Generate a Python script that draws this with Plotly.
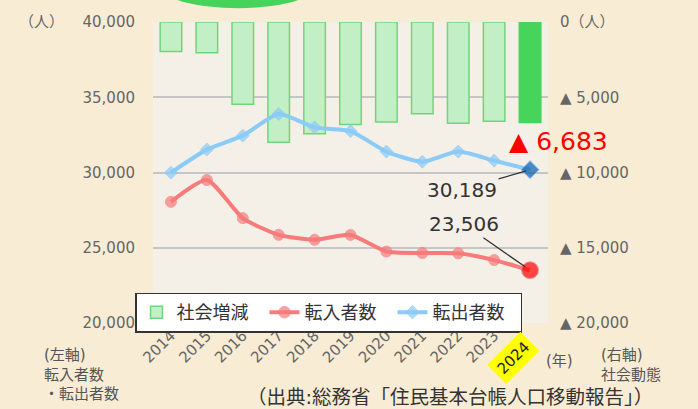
import plotly.graph_objects as go

years = ["2014", "2015", "2016", "2017", "2018", "2019", "2020", "2021", "2022", "2023", "2024"]
social_change = [-1960, -2050, -5460, -7990, -7420, -6810, -6650, -6100, -6720, -6600, -6683]
moved_in = [28050, 29500, 26970, 25860, 25530, 25850, 24750, 24650, 24630, 24180, 23506]
moved_out = [29990, 31520, 32450, 33890, 33000, 32750, 31390, 30720, 31390, 30790, 30189]

left_ticks = [20000, 25000, 30000, 35000, 40000]
right_tickvals = [0, -5000, -10000, -15000, -20000]
right_ticktext = ["0（人）", "▲ 5,000", "▲ 10,000", "▲ 15,000", "▲ 20,000"]

FONT = "DejaVu Sans, Noto Sans CJK JP, sans-serif"
GREY = "#666666"

n = len(years)
last = n - 1
bar_fill = ["#c3efc6"] * (n - 1) + ["#46d45a"]
bar_line = ["#6fd77a"] * (n - 1) + ["#46d45a"]
red_sizes = [11] * (n - 1) + [17]
red_colors = ["#f77b7b"] * (n - 1) + ["#ff0000"]
blue_sizes = [10] * (n - 1) + [14]
blue_colors = ["#8acbf7"] * (n - 1) + ["#0a5cb0"]

fig = go.Figure()
fig.add_trace(go.Bar(
    x=years, y=social_change, name="社会増減", yaxis="y", width=0.6,
    marker=dict(color=bar_fill, line=dict(color=bar_line, width=1.5)),
))
fig.add_trace(go.Scatter(
    x=years, y=moved_in, name="転入者数", yaxis="y2", mode="lines+markers",
    line=dict(color="#f77b7b", width=4, shape="spline", smoothing=0.6),
    marker=dict(symbol="circle", size=red_sizes, color=red_colors),
))
fig.add_trace(go.Scatter(
    x=years, y=moved_out, name="転出者数", yaxis="y2", mode="lines+markers",
    line=dict(color="#8acbf7", width=4, shape="spline", smoothing=0.6),
    marker=dict(symbol="diamond", size=blue_sizes, color=blue_colors),
))

x_ticktext = years[:-1] + [""]

fig.update_layout(
    width=698, height=409,
    margin=dict(l=153, r=150, t=22, b=86, autoexpand=False),
    paper_bgcolor="#f8ecd5",
    plot_bgcolor="#f4efe7",
    font=dict(family=FONT, size=15, color=GREY),
    xaxis=dict(
        type="category", range=[-0.5, n - 0.5], tickangle=-45,
        tickvals=years, ticktext=x_ticktext, automargin=False,
        showgrid=False, zeroline=False, showline=False,
        tickfont=dict(size=15, color=GREY), ticks="",
    ),
    yaxis=dict(
        side="right", range=[-20000, 0], tickvals=right_tickvals, ticktext=right_ticktext,
        showgrid=True, gridcolor="#c6c6c6", gridwidth=1.5, zeroline=False, automargin=False,
        showline=False, ticks="outside", ticklen=8, tickcolor="rgba(0,0,0,0)",
        tickfont=dict(size=15, color=GREY),
    ),
    yaxis2=dict(
        side="left", overlaying="y", range=[20000, 40000], tickvals=left_ticks,
        tickformat=",", showgrid=False, zeroline=False, showline=False, automargin=False,
        ticks="outside", ticklen=14, tickcolor="rgba(0,0,0,0)",
        tickfont=dict(size=15, color=GREY),
    ),
    legend=dict(
        orientation="h", xref="container", yref="container",
        x=135 / 698, y=1 - 312.5 / 409, xanchor="left", yanchor="middle",
        bgcolor="#ffffff", bordercolor="#333333", borderwidth=1.5,
        font=dict(size=18, color="#333333", family=FONT),
        itemwidth=30, entrywidth=83, traceorder="normal",
    ),
    showlegend=True,
)

# decorative green ellipse at top
fig.add_shape(type="circle", xref="paper", yref="paper",
              x0=0.025, x1=0.405, y0=1.046, y1=1.18,
              fillcolor="#46d35a", line=dict(width=0), layer="above")

annots = [
    dict(text="（人）", xref="paper", yref="paper", x=-0.345, y=1.0, xanchor="left",
         yanchor="middle", showarrow=False, font=dict(size=15, color=GREY)),
    dict(text="(左軸)<br>転入者数<br>・転出者数", xref="paper", yref="paper", x=-0.28, y=-0.07,
         xanchor="left", yanchor="top", align="left", showarrow=False,
         font=dict(size=15, color="#555555")),
    dict(text="(年)", xref="paper", yref="paper", x=0.99, y=-0.127, xanchor="left",
         yanchor="middle", showarrow=False, font=dict(size=15, color="#555555")),
    dict(text="(右軸)<br>社会動態", xref="paper", yref="paper", x=1.13, y=-0.07,
         xanchor="left", yanchor="top", align="left", showarrow=False,
         font=dict(size=15, color="#555555")),
    dict(text="（出典:総務省「住民基本台帳人口移動報告」）", xref="paper", yref="paper",
         x=0.232, y=-0.246, xanchor="left", yanchor="middle", showarrow=False,
         font=dict(size=19.5, color="#333333")),
    dict(text="2024", x=last, xref="x", yref="paper", y=-0.115, xshift=-17,
         textangle=-45, bgcolor="#ffff00", borderpad=4, showarrow=False,
         xanchor="center", yanchor="middle", font=dict(size=15, color="#222222")),
    dict(text="▲ {:,}".format(-social_change[-1]), x=last, y=social_change[-1], xref="x", yref="y",
         xanchor="center", yanchor="top", xshift=28, yshift=-2, showarrow=False,
         font=dict(size=25, color="#ff0000")),
    dict(text="{:,}".format(moved_out[-1]), x=last, y=moved_out[-1], xref="x", yref="y2",
         showarrow=True, arrowhead=0, arrowwidth=1.3, arrowcolor="#333333",
         ax=-68, ay=20, standoff=4, font=dict(size=20, color="#333333")),
    dict(text="{:,}".format(moved_in[-1]), x=last, y=moved_in[-1], xref="x", yref="y2",
         showarrow=True, arrowhead=0, arrowwidth=1.3, arrowcolor="#333333",
         ax=-66, ay=-46, standoff=6, font=dict(size=20, color="#333333")),
]
fig.update_layout(annotations=annots)

fig.write_html("out.html", config={"displayModeBar": False},
               post_script="document.body.style.margin='0';")
